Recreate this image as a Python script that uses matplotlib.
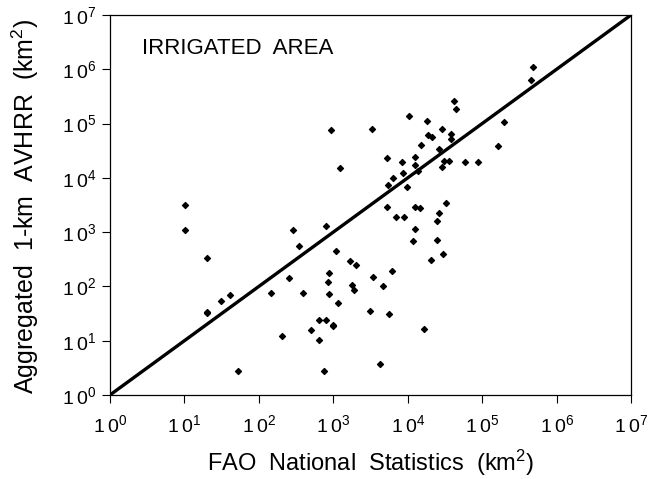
import numpy as np
import matplotlib
matplotlib.use('Agg')
import matplotlib.pyplot as plt
from matplotlib.ticker import FixedLocator, FuncFormatter, NullLocator

plt.rcParams['font.family'] = ['Liberation Sans', 'DejaVu Sans']
plt.rcParams['mathtext.default'] = 'regular'

# FAO national statistics (km2)
fao = [10.3, 10.3, 20, 41, 31, 20, 20, 52, 285, 344, 257, 145, 205,
       42000, 44300, 10300, 17900, 925, 3360, 29300, 18600, 21300, 38300,
       38300, 15300, 26700, 5330, 12700, 8300, 12700, 31100, 35600, 28600,
       58500, 89100, 1250, 13900, 8770, 6300, 5460, 9700, 5220, 12700,
       14400, 33100, 26100, 6980, 8950, 24500, 12400, 11900, 25100, 810,
       1090, 29500, 20400, 1700, 2050, 880, 845, 3400, 6240, 396, 1810,
       1900, 880, 4720, 1160, 3090, 5560, 640, 810, 1000, 980, 500, 650,
       16400, 4300, 745, 480000, 460000, 198000, 163000]

# aggregated 1-km AVHRR (km2)
avhrr = [3200, 1100, 330, 70, 54, 32, 34, 2.8, 1110, 560, 145, 75, 12.4,
         263000, 182000, 137000, 111000, 75000, 79000, 78000, 60500, 55700,
         64100, 52500, 40200, 33500, 23400, 24200, 19500, 17400, 20100,
         20100, 15800, 19800, 19800, 15300, 13500, 12400, 9900, 7260, 6780,
         2940, 2940, 2740, 3480, 2280, 1870, 1870, 1620, 1160, 685, 725,
         1290, 455, 390, 306, 290, 245, 179, 119, 149, 190, 75, 106, 87, 71,
         100, 50, 36, 31, 24, 24.4, 19.7, 18.6, 16, 10.4, 16.2, 3.8, 2.8,
         1110000, 640000, 107000, 38000]

decades = list(range(0, 8))
one_to_one = [1, 1e7]

fig = plt.figure(figsize=(6.5, 4.79), dpi=100)
ax = fig.add_axes([0.1692, 0.1754, 0.8016, 0.7933])

ax.plot(one_to_one, one_to_one, color='black', lw=2.4, solid_capstyle='butt')
ax.scatter(fao, avhrr, marker='D', s=9, color='black', zorder=3)

ax.set_xscale('log')
ax.set_yscale('log')
ax.set_xlim(1, 1e7)
ax.set_ylim(1, 1e7)

ticks = [10.0 ** k for k in decades]
fmt = FuncFormatter(lambda v, p: r'$1\,0^{%d}$' % round(np.log10(v)))
for axis in (ax.xaxis, ax.yaxis):
    axis.set_major_locator(FixedLocator(ticks))
    axis.set_minor_locator(NullLocator())
    axis.set_major_formatter(fmt)

ax.tick_params(direction='out', length=6, width=0.8, labelsize=14)
ax.tick_params(axis='x', pad=8)
ax.tick_params(axis='y', pad=4)
for s in ax.spines.values():
    s.set_linewidth(0.9)

ax.set_xlabel(r'FAO  National  Statistics  (km$^2$)', fontsize=17, va='center')
ax.set_ylabel(r'Aggregated  1-km  AVHRR  (km$^2$)', fontsize=18, va='center')
ax.xaxis.set_label_coords(0.5, -0.178)
ax.yaxis.set_label_coords(-0.163, 0.497)

ax.text(0.061, 0.913, 'IRRIGATED  AREA', transform=ax.transAxes,
        fontsize=16, va='center', ha='left')

fig.savefig('out.png', dpi=100)
